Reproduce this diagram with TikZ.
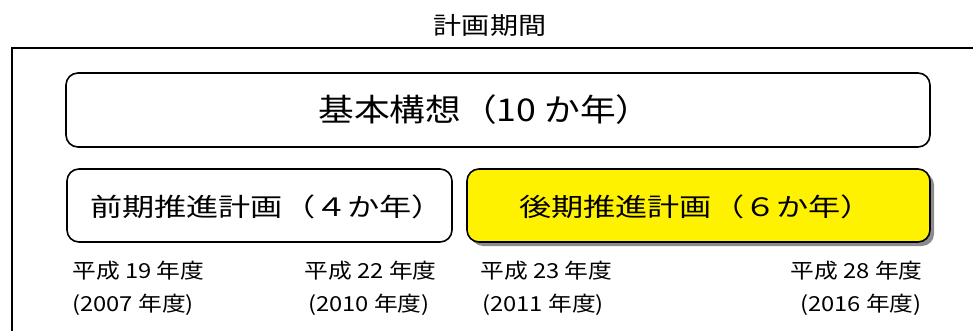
\documentclass[tikz,border=0pt]{standalone}
\usepackage{fontspec}
\setmainfont{Noto Sans CJK JP}
\usetikzlibrary{shadows}
\newcommand{\stx}[3]{\scalebox{#1}[1]{\fontsize{#2}{#2}\selectfont #3}}
\begin{document}
\begin{tikzpicture}[x=0.75pt,y=-0.75pt,
  rbox/.style={draw=black,line width=1.2pt,rounded corners=9pt,fill=white,inner sep=0pt},
  ybox/.style={rbox,fill=yellow,drop shadow={shadow xshift=3pt,shadow yshift=-3pt,fill=black!45,opacity=1}},
  txt/.style={inner sep=0pt,text=black},
]
\useasboundingbox (0,0) rectangle (973,331);
\clip (0,0) rectangle (973,331);
\node[txt] (title) at (490,25) {\stx{1.17}{18pt}{計画期間}};
\draw[line width=1.4pt] (990,48) -- (12,48) -- (12,350);
\node[rbox,minimum width=648pt,minimum height=55.5pt] (kihon) at (498,110) {};
\node[txt] (kihont) at (485,110) {\stx{1.14}{23.5pt}{基本構想（10 か年）}};
\node[rbox,minimum width=288.75pt,minimum height=54.75pt] (zenki) at (259.5,205.5) {};
\node[txt] (zenkit) at (267,207) {\stx{1.27}{19pt}{前期推進計画（４か年）}};
\node[ybox,minimum width=347.25pt,minimum height=54.75pt] (koki) at (698.5,205.5) {};
\node[txt] (kokit) at (696,207) {\stx{1.27}{19pt}{後期推進計画（６か年）}};
\node[txt,anchor=west] (l1a) at (72,271) {\stx{1.15}{15.5pt}{平成 19 年度}};
\node[txt,anchor=west] (l1b) at (72,305) {\stx{1.15}{15.5pt}{(2007 年度)}};
\node[txt,anchor=east] (l2a) at (437,271) {\stx{1.15}{15.5pt}{平成 22 年度}};
\node[txt,anchor=east] (l2b) at (430,305) {\stx{1.15}{15.5pt}{(2010 年度)}};
\node[txt,anchor=west] (l3a) at (480,271) {\stx{1.15}{15.5pt}{平成 23 年度}};
\node[txt,anchor=west] (l3b) at (482,305) {\stx{1.15}{15.5pt}{(2011 年度)}};
\node[txt,anchor=east] (l4a) at (923,271) {\stx{1.15}{15.5pt}{平成 28 年度}};
\node[txt,anchor=east] (l4b) at (922,305) {\stx{1.15}{15.5pt}{(2016 年度)}};
\end{tikzpicture}
\end{document}
